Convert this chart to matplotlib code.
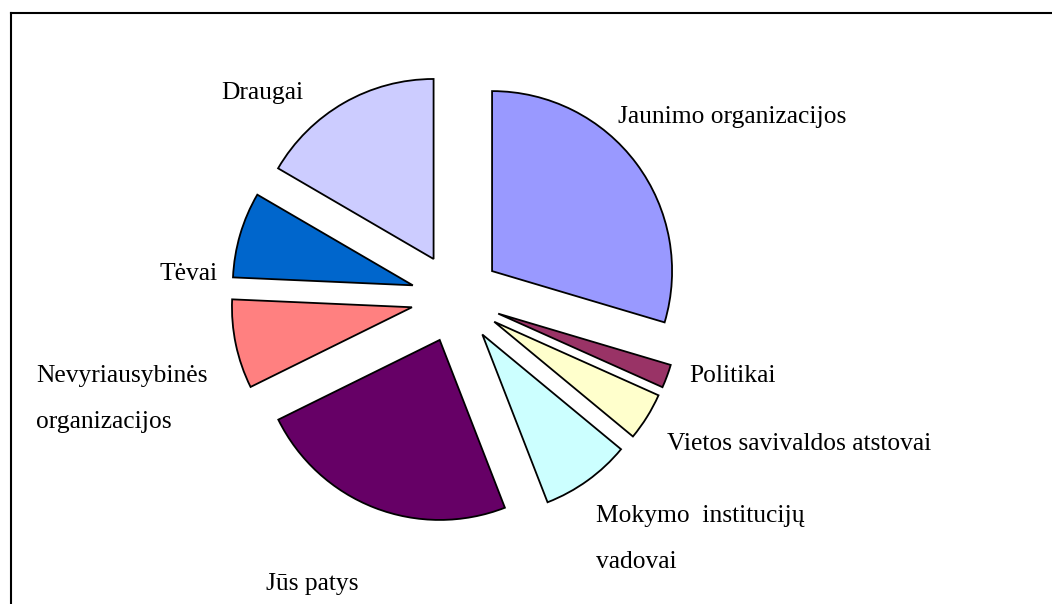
import matplotlib
matplotlib.use("Agg")
import matplotlib.pyplot as plt
from matplotlib.lines import Line2D

# ---- data ----
categories = ["Jaunimo organizacijos", "Politikai", "Vietos savivaldos atstovai",
              "Mokymo  institucijų\nvadovai", "Jūs patys",
              "Nevyriausybinės\norganizacijos", "Tėvai", "Draugai"]
shares = [29.6, 2.1, 4.3, 8.1, 23.6, 8.0, 7.7, 16.6]
colors = ["#9999FF", "#993366", "#FFFFCC", "#CCFFFF", "#660066",
          "#FF8080", "#0066CC", "#CCCCFF"]

# ---- layout (pixels, image coords: x from left, y from top = baseline of 1st line) ----
label_pos = [(618, 123), (689, 382), (667, 450), (596, 522), (266, 590),
             (36, 382), (160, 280), (221, 99)]
line_gap = 46

W, H = 1052, 604
fig = plt.figure(figsize=(W / 100, H / 100), dpi=100)
ax = fig.add_axes([0, 0, 1, 1])

cx, cy, R = 456, H - 298, 180
ax.pie(shares, colors=colors, startangle=90, counterclock=False,
       radius=R, center=(cx, cy), explode=[45] * len(shares),
       wedgeprops=dict(edgecolor="black", linewidth=1.3))
ax.set_aspect("auto")
ax.set_xlim(0, W)
ax.set_ylim(0, H)
ax.axis("off")

font = dict(family="Liberation Serif", size=18.4, color="black")
for lab, (x, y) in zip(categories, label_pos):
    for i, line in enumerate(lab.split("\n")):
        ax.text(x, H - (y + i * line_gap), line, ha="left", va="baseline", **font)

# chart frame (only top and left visible in the crop)
ax.add_line(Line2D([11, 11], [0, H - 13], color="black", lw=1.5, solid_capstyle="projecting"))
ax.add_line(Line2D([11, W], [H - 13, H - 13], color="black", lw=1.5, solid_capstyle="projecting"))

fig.savefig("out.png", dpi=100, facecolor="white")
